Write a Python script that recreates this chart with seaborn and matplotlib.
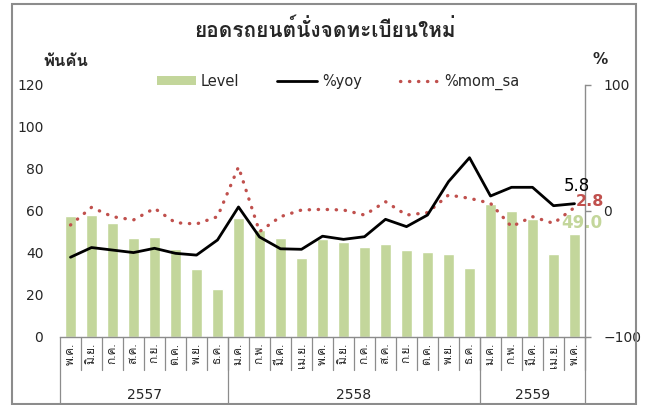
import matplotlib
matplotlib.use("Agg")
import matplotlib.pyplot as plt
import matplotlib.transforms as mtrans
from matplotlib.lines import Line2D
from matplotlib.patches import Patch, Rectangle
import pandas as pd
import seaborn as sns

# =========================
# DATA
# =========================
months = ["พ.ค.", "มิ.ย.", "ก.ค.", "ส.ค.", "ก.ย.", "ต.ค.", "พ.ย.", "ธ.ค.",
          "ม.ค.", "ก.พ.", "มี.ค.", "เม.ย.", "พ.ค.", "มิ.ย.", "ก.ค.", "ส.ค.",
          "ก.ย.", "ต.ค.", "พ.ย.", "ธ.ค.",
          "ม.ค.", "ก.พ.", "มี.ค.", "เม.ย.", "พ.ค."]
years = ["2557", "2558", "2559"]
year_counts = [8, 12, 5]

level = [57.6, 58.0, 54.4, 47.0, 47.5, 42.0, 32.2, 22.7,
         56.7, 51.0, 47.0, 37.8, 46.5, 45.4, 43.0, 44.1,
         41.4, 40.6, 39.5, 32.7,
         63.3, 60.1, 56.0, 39.5, 49.0]
yoy = [-36.7, -29.0, -31.0, -33.0, -29.6, -33.6, -35.0, -23.0,
       3.2, -20.6, -30.0, -30.4, -20.0, -22.5, -20.4, -6.6,
       -12.4, -3.2, 23.3, 42.3,
       11.9, 18.8, 18.8, 4.2, 5.8]
mom_sa = [-11.1, 2.9, -4.5, -7.1, 2.1, -9.3, -10.3, -4.5,
          35.0, -16.4, -4.5, 0.8, 1.3, 0.8, -3.2, 7.4,
          -3.2, -1.3, 12.7, 10.1,
          6.1, -12.4, -4.5, -9.8, 2.8]

df = pd.DataFrame({"idx": range(len(months)), "level": level,
                   "yoy": yoy, "mom_sa": mom_sa})

THAI = ["Loma", "DejaVu Sans"]
GREEN = "#c3d69b"
RED = "#c0504d"
GRAY = "#8c8c8c"
DOTS = (0, (0.1, 2.6))

sns.set_style("white")
plt.rcParams["font.family"] = ["DejaVu Sans"]

fig = plt.figure(figsize=(6.46, 4.05), dpi=100)
ax = fig.add_axes([60 / 646, 68 / 405, 525 / 646, 252 / 405])
ax2 = ax.twinx()

# =========================
# BARS + LINES
# =========================
sns.barplot(data=df, x="idx", y="level", color=GREEN, width=0.55,
            saturation=1, ax=ax, zorder=1)
sns.lineplot(data=df, x="idx", y="yoy", color="black", linewidth=2.0,
             ax=ax2, zorder=3)
sns.lineplot(data=df, x="idx", y="mom_sa", color=RED, linewidth=2.4,
             linestyle=DOTS, dash_capstyle="round", ax=ax2, zorder=2)

ax.set_xlim(-0.5, len(months) - 0.5)
ax.set_ylim(0, 120)
ax2.set_ylim(-100, 100)
ax.set_yticks([0, 20, 40, 60, 80, 100, 120])
ax2.set_yticks([-100, 0, 100])
ax.set_xlabel("")
ax.set_ylabel("")
ax2.set_ylabel("")
ax.set_xticks([])

for a in (ax, ax2):
    for s in a.spines.values():
        s.set_visible(False)
ax2.spines["right"].set_visible(True)
ax2.spines["right"].set_color(GRAY)
ax2.spines["right"].set_linewidth(1.0)
ax.spines["bottom"].set_visible(True)
ax.spines["bottom"].set_color(GRAY)
ax.spines["bottom"].set_linewidth(1.0)

ax.tick_params(axis="y", length=0, pad=12, labelsize=10)
ax2.tick_params(axis="y", length=4, width=1, color=GRAY, pad=9, labelsize=10)
for lab in ax2.get_yticklabels():
    lab.set_horizontalalignment("left")

# =========================
# CATEGORY AXIS (months + years)
# =========================
tr = mtrans.blended_transform_factory(ax.transData, ax.transAxes)
for i, m in enumerate(months):
    ax.text(i, -0.022, m, rotation=90, ha="center", va="top", fontsize=8.5,
            family=THAI, transform=tr)
    ax.plot([i + 0.5, i + 0.5], [0, -0.131], color=GRAY, lw=0.9,
            transform=tr, clip_on=False)

start = -0.5
for y, n in zip(years, year_counts):
    ax.plot([start, start], [0, -0.27], color=GRAY, lw=0.9,
            transform=tr, clip_on=False)
    ax.text(start + n / 2, -0.232, y, ha="center", va="center",
            fontsize=10, transform=tr)
    start += n
ax.plot([start, start], [0, -0.27], color=GRAY, lw=0.9,
        transform=tr, clip_on=False)

# =========================
# END LABELS
# =========================
last = len(months) - 1
ax2.annotate(f"{yoy[-1]:.1f}", (last, yoy[-1]), xytext=(2, 13),
             textcoords="offset points", ha="center", va="center",
             fontsize=12, color="black")
ax2.annotate(f"{mom_sa[-1]:.1f}", (last, mom_sa[-1]), xytext=(11, 4),
             textcoords="offset points", ha="center", va="center",
             fontsize=11.5, color=RED, fontweight="bold")
ax.annotate(f"{level[-1]:.1f}", (last, level[-1]), xytext=(5, 8),
            textcoords="offset points", ha="center", va="center",
            fontsize=12, color=GREEN, fontweight="bold")

# =========================
# TITLE, UNITS, LEGEND
# =========================
fig.text(325 / 646, 1 - 30 / 405, "ยอดรถยนต์นั่งจดทะเบียนใหม่",
         ha="center", va="center", fontsize=15, fontweight="bold", family=THAI)
fig.text(66 / 646, 1 - 61 / 405, "พันคัน", ha="center", va="center",
         fontsize=12, fontweight="bold", family=THAI)
fig.text(600 / 646, 1 - 60 / 405, "%", ha="center", va="center",
         fontsize=11, fontweight="bold")

handles = [
    Patch(facecolor=GREEN, edgecolor="none", label="Level"),
    Line2D([], [], color="black", lw=2.0, label="%yoy"),
    Line2D([], [], color=RED, lw=2.4, linestyle=DOTS,
           dash_capstyle="round", label="%mom_sa"),
]
fig.legend(handles=handles, loc="center", ncol=3, frameon=False,
           bbox_to_anchor=(338 / 646, 1 - 82 / 405), fontsize=10.5,
           handlelength=2.7, handleheight=0.55, handletextpad=0.35,
           columnspacing=2.6)

# outer frame
fig.patches.append(Rectangle((12 / 646, 1 / 405), 624 / 646, 400 / 405,
                             transform=fig.transFigure, fill=False,
                             edgecolor=GRAY, lw=1.5))

fig.savefig("out.png", dpi=100)
